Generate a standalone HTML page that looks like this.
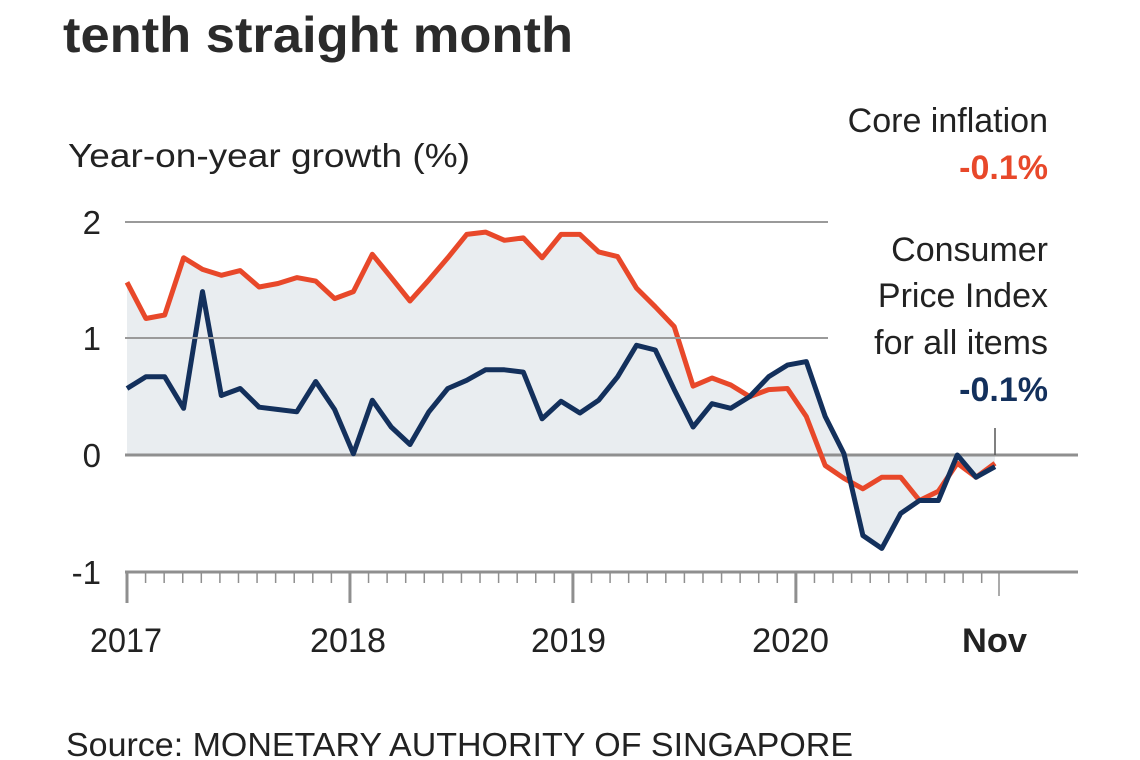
<!DOCTYPE html>
<html><head><meta charset="utf-8"><style>
html,body{margin:0;padding:0;background:#fff;}
svg{display:block;font-family:"Liberation Sans",sans-serif;}
</style></head><body>
<svg width="1140" height="760" viewBox="0 0 1140 760" xmlns="http://www.w3.org/2000/svg">
<text x="63" y="52" font-size="50" font-weight="bold" fill="#2b2b2b" textLength="510" lengthAdjust="spacingAndGlyphs">tenth straight month</text>
<text x="68" y="167" font-size="33" fill="#222" textLength="402" lengthAdjust="spacingAndGlyphs">Year-on-year growth (%)</text>
<g id="chart"></g>
<line x1="125" y1="222" x2="828" y2="222" stroke="#9a9a9a" stroke-width="2"/>
<line x1="125" y1="338" x2="828" y2="338" stroke="#9a9a9a" stroke-width="2"/>
<g font-size="33" fill="#222" text-anchor="end">
<text x="101" y="234">2</text><text x="101" y="350">1</text><text x="101" y="467">0</text><text x="101" y="584">-1</text>
</g>
<text x="1048" y="132" font-size="34" fill="#222" text-anchor="end">Core inflation</text>
<text x="1048" y="179" font-size="34" font-weight="bold" fill="#e8482a" text-anchor="end">-0.1%</text>
<text x="1048" y="261" font-size="34" fill="#222" text-anchor="end">Consumer</text>
<text x="1048" y="307" font-size="34" fill="#222" text-anchor="end">Price Index</text>
<text x="1048" y="354" font-size="34" fill="#222" text-anchor="end">for all items</text>
<text x="1048" y="401" font-size="34" font-weight="bold" fill="#13305c" text-anchor="end">-0.1%</text>
<line x1="995" y1="428" x2="995" y2="455" stroke="#555" stroke-width="1.5"/>
<g font-size="34" fill="#222">
<text x="90" y="652" textLength="72" lengthAdjust="spacingAndGlyphs">2017</text>
<text x="310" y="652" textLength="76" lengthAdjust="spacingAndGlyphs">2018</text>
<text x="531" y="652" textLength="75" lengthAdjust="spacingAndGlyphs">2019</text>
<text x="752" y="652" textLength="77" lengthAdjust="spacingAndGlyphs">2020</text>
<text x="962" y="652" font-weight="bold" textLength="65" lengthAdjust="spacingAndGlyphs">Nov</text>
</g>
<text x="66" y="756" font-size="33" fill="#222" textLength="787" lengthAdjust="spacingAndGlyphs">Source: MONETARY AUTHORITY OF SINGAPORE</text>
</svg>
<script>
(function(){
var core=[1.48,1.17,1.2,1.69,1.59,1.54,1.58,1.44,1.47,1.52,1.49,1.34,1.4,1.72,1.52,1.32,1.5,1.69,1.89,1.91,1.84,1.86,1.69,1.89,1.89,1.74,1.7,1.43,1.27,1.1,0.59,0.66,0.6,0.5,0.56,0.57,0.33,-0.09,-0.2,-0.29,-0.19,-0.19,-0.39,-0.31,-0.07,-0.19,-0.07];
var cpi=[0.57,0.67,0.67,0.4,1.4,0.51,0.57,0.41,0.39,0.37,0.63,0.39,0.01,0.47,0.24,0.09,0.37,0.57,0.64,0.73,0.73,0.71,0.31,0.46,0.36,0.47,0.67,0.94,0.9,0.56,0.24,0.44,0.4,0.5,0.67,0.77,0.8,0.33,0.01,-0.69,-0.8,-0.5,-0.39,-0.39,0,-0.19,-0.1];
function X(i){return 127+i*(995-127)/46;}
function Y(v){return 455-v*116.7;}
function pts(a){return a.map(function(v,i){return X(i).toFixed(1)+","+Y(v).toFixed(1);}).join(" ");}
var ns="http://www.w3.org/2000/svg",g=document.getElementById("chart");
function el(t,at){var e=document.createElementNS(ns,t);for(var k in at)e.setAttribute(k,at[k]);g.appendChild(e);return e;}
[core,cpi].forEach(function(a){el("polygon",{points:X(0)+",455 "+pts(a)+" "+X(46)+",455",fill:"#e9edf0"});});
el("line",{x1:125,y1:455,x2:1078,y2:455,stroke:"#8f8f8f","stroke-width":3});
el("line",{x1:125,y1:572,x2:1078,y2:572,stroke:"#8f8f8f","stroke-width":3});
for(var m=0;m<=47;m++){var x=127+m*18.58;var major=(m%12==0&&m<48);var len=major?603:(m==47?596:583);
 if(m==47)x=999;
 el("line",{x1:x,y1:572,x2:x,y2:len,stroke:"#8f8f8f","stroke-width":major?3:1.5});}
el("polyline",{points:pts(core),fill:"none",stroke:"#e8482a","stroke-width":5,"stroke-linejoin":"round"});
el("polyline",{points:pts(cpi),fill:"none",stroke:"#13305c","stroke-width":5,"stroke-linejoin":"round"});
})();
</script>
</body></html>
